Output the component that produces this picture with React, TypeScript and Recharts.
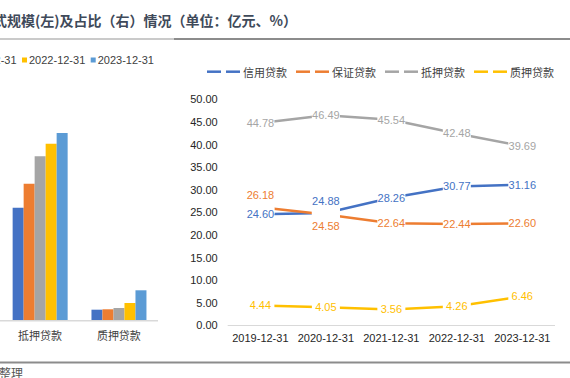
import React from 'react';
import { BarChart, Bar, XAxis, YAxis, LineChart, Line, LabelList } from 'recharts';

// ---- data ----
const years = ['2019-12-31', '2020-12-31', '2021-12-31', '2022-12-31', '2023-12-31'];
const loanTypes = ['信用贷款', '保证贷款', '抵押贷款', '质押贷款'];

// loan amounts (亿元) per year, in the order of loanTypes
const amt2019 = [62.1, 66.1, 113.0, 11.0];
const amt2020 = [73.3, 72.4, 137.0, 11.4];
const amt2021 = [102.0, 81.7, 164.4, 12.7];
const amt2022 = [128.2, 93.5, 177.0, 17.7];
const amt2023 = [147.4, 106.9, 187.7, 30.4];

// share (%) per year
const shareCredit = [24.6, 24.88, 28.26, 30.77, 31.16];
const shareGuarantee = [26.18, 24.58, 22.64, 22.44, 22.6];
const shareMortgage = [44.78, 46.49, 45.54, 42.48, 39.69];
const sharePledge = [4.44, 4.05, 3.56, 4.26, 6.46];

const shareTicks = [0, 5, 10, 15, 20, 25, 30, 35, 40, 45, 50];

const titleText = '式规模(左)及占比（右）情况（单位：亿元、%）';
const sourceText = '整理';

// ---- styles ----
const yearColors = ['#4472C4', '#ED7D31', '#A5A5A5', '#FFC000', '#5B9BD5'];
const typeColors = ['#4472C4', '#ED7D31', '#A5A5A5', '#FFC000'];
const CJK = '"Noto Sans CJK SC", "Noto Sans", sans-serif';
const LAT = '"Liberation Sans", Arial, sans-serif';

const amounts = [amt2019, amt2020, amt2021, amt2022, amt2023];
const barData = loanTypes.map((t, i) => {
  const row: any = { type: t };
  amounts.forEach((a, k) => (row['y' + k] = a[i]));
  return row;
});

const shareKeys = ['credit', 'guarantee', 'mortgage', 'pledge'];
const shares = [shareCredit, shareGuarantee, shareMortgage, sharePledge];
const lineData = years.map((y, i) => {
  const row: any = { year: y };
  shareKeys.forEach((k, s) => (row[k] = shares[s][i]));
  return row;
});

// vertical label offsets (px) per series
const labelOffsets = [
  [0, -12, 0, 0, 0],
  [-12, 12, 0, 0, 0],
  [0, 0, 0, 0, 0],
  [0, 0, 0, 0, 0],
];

const BoxLabel = (props: any) => {
  const { x, y } = props;
  if (x == null || y == null) return null;
  return <rect x={x - 14} y={y - 7} width={28} height={14} fill="#ffffff" />;
};

const makeTextLabel = (s: number) => (props: any) => {
  const { x, y, value, index } = props;
  if (x == null || y == null) return null;
  return (
    <text
      x={x}
      y={y + labelOffsets[s][index]}
      textAnchor="middle"
      dominantBaseline="central"
      fill={typeColors[s]}
      fontSize={11}
      fontFamily={LAT}
    >
      {Number(value).toFixed(2)}
    </text>
  );
};

export default function App() {
  const legendPitchLine = 89;
  return (
    <div
      style={{
        position: 'absolute',
        left: 0,
        top: 0,
        width: 570,
        height: 378,
        overflow: 'hidden',
        background: '#ffffff',
      }}
    >
      {/* decorations */}
      <svg width={570} height={378} style={{ position: 'absolute', left: 0, top: 0 }}>
        <text
          x={297}
          y={20}
          textAnchor="end"
          dominantBaseline="central"
          fontFamily={CJK}
          fontWeight="bold"
          fontSize={14}
          fill="#3f4a5a"
        >
          {titleText}
        </text>
        <line x1={0} x2={174} y1={39} y2={39} stroke="#b8b8b8" strokeWidth={1.5} />
        <line x1={174} x2={570} y1={39} y2={39} stroke="#8c8c8c" strokeWidth={2} />
        <line x1={0} x2={570} y1={362.5} y2={362.5} stroke="#8c8c8c" strokeWidth={2} />
        <text x={-1} y={372} dominantBaseline="central" fontFamily={CJK} fontSize={12} fill="#555">
          {sourceText}
        </text>
        {/* left legend */}
        {years.map((y, i) => {
          const mx = 22 + (i - 3) * 68.7;
          return (
            <g key={y}>
              <rect x={mx} y={57.5} width={5} height={5} fill={yearColors[i]} />
              <text x={mx + 7} y={60} dominantBaseline="central" fontFamily={LAT} fontSize={11} fill="#404040">
                {y}
              </text>
            </g>
          );
        })}
        {/* right legend */}
        {loanTypes.map((t, i) => {
          const mx = 207 + i * legendPitchLine;
          return (
            <g key={t}>
              <line x1={mx} x2={mx + 14} y1={71.7} y2={71.7} stroke={typeColors[i]} strokeWidth={2.5} />
              <line x1={mx + 19} x2={mx + 33} y1={71.7} y2={71.7} stroke={typeColors[i]} strokeWidth={2.5} />
              <text x={mx + 36} y={71.7} dominantBaseline="central" fontFamily={CJK} fontSize={11} fill="#404040">
                {t}
              </text>
            </g>
          );
        })}
      </svg>

      {/* left bar chart */}
      <div style={{ position: 'absolute', left: -157.5, top: 100 }}>
        <BarChart
          width={315.3}
          height={250.7}
          data={barData}
          margin={{ top: 20.7, right: 0, bottom: 0, left: 0 }}
          barCategoryGap={12}
          barGap={0}
        >
          <XAxis
            dataKey="type"
            height={30}
            stroke="#d9d9d9"
            strokeWidth={1.5}
            tickLine={false}
            tickSize={0}
            tickMargin={12}
            tick={{ fontFamily: CJK, fontSize: 11, fill: '#404040' }}
          />
          <YAxis hide domain={[0, 200]} />
          {years.map((y, k) => (
            <Bar key={y} dataKey={'y' + k} name={y} fill={yearColors[k]} isAnimationActive={false} />
          ))}
        </BarChart>
      </div>

      {/* right line chart */}
      <div style={{ position: 'absolute', left: 180, top: 80 }}>
        <LineChart
          width={390}
          height={280}
          data={lineData}
          margin={{ top: 19.5, right: 15, bottom: 4.5, left: 7.7 }}
        >
          <XAxis
            dataKey="year"
            height={30}
            padding={{ left: 32.7, right: 32.7 }}
            stroke="#d9d9d9"
            tickLine={false}
            tickSize={0}
            tickMargin={9}
            interval={0}
            tick={{ fontFamily: LAT, fontSize: 11, fill: '#262626' }}
          />
          <YAxis
            width={40}
            domain={[0, 50]}
            ticks={shareTicks}
            axisLine={false}
            tickLine={false}
            tickSize={0}
            tickMargin={10}
            tickFormatter={(v: number) => v.toFixed(2)}
            tick={{ fontFamily: LAT, fontSize: 11, fill: '#262626' }}
          />
          {shareKeys.map((k, s) => (
            <Line
              key={k}
              dataKey={k}
              name={loanTypes[s]}
              stroke={typeColors[s]}
              strokeWidth={2.5}
              dot={false}
              activeDot={false}
              isAnimationActive={false}
            />
          ))}
          {shareKeys.map((k) => (
            <Line
              key={'box-' + k}
              dataKey={k}
              stroke="none"
              dot={false}
              activeDot={false}
              legendType="none"
              isAnimationActive={false}
            >
              <LabelList dataKey={k} content={BoxLabel} />
            </Line>
          ))}
          {shareKeys.map((k, s) => (
            <Line
              key={'txt-' + k}
              dataKey={k}
              stroke="none"
              dot={false}
              activeDot={false}
              legendType="none"
              isAnimationActive={false}
            >
              <LabelList dataKey={k} content={makeTextLabel(s)} />
            </Line>
          ))}
        </LineChart>
      </div>
    </div>
  );
}
